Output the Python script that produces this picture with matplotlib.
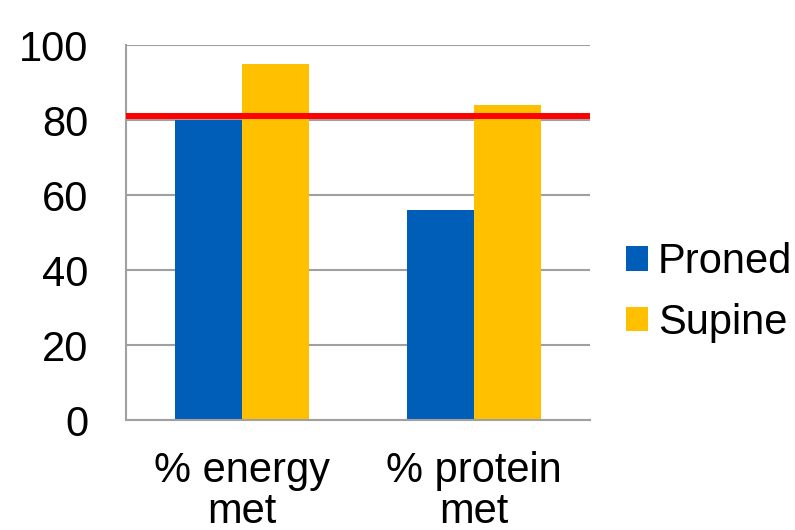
import numpy as np
from matplotlib import pyplot as plt

plt.rcParams['font.family'] = ['Liberation Sans', 'DejaVu Sans']

# Data
categories = ['% energy\nmet', '% protein\nmet']
proned = [80, 56]
supine = [95, 84]
target = 81
yticks = [0, 20, 40, 60, 80, 100]

blue = '#005EB8'
yellow = '#FFC000'
grid_col = '#A0A0A0'

fig = plt.figure(figsize=(7.95, 5.3), dpi=100)
ax = fig.add_axes([0.1585, 0.2075, 0.5836, 0.7075])

x = np.arange(len(categories))
w = 0.287
ax.bar(x - w/2, proned, w, color=blue, label='Proned', zorder=2)
ax.bar(x + w/2, supine, w, color=yellow, label='Supine', zorder=2)
ax.axhline(target, color='#FF0000', lw=4.3, zorder=3)

ax.set_xlim(-0.5, 1.5)
ax.set_ylim(0, 100)
ax.set_yticks(yticks)
ax.set_xticks(x)
ax.set_xticklabels(categories, fontsize=30, linespacing=1.05)
ax.tick_params(axis='y', labelsize=30, length=0, pad=27)
ax.tick_params(axis='x', length=0, pad=22)

ax.grid(axis='y', color=grid_col, lw=1.5, zorder=1)
for s in ['top', 'right']:
    ax.spines[s].set_visible(False)
for s in ['left', 'bottom']:
    ax.spines[s].set_color(grid_col)
    ax.spines[s].set_linewidth(1.5)

fig.legend(*ax.get_legend_handles_labels(), loc='center left',
           bbox_to_anchor=(0.787, 0.448), frameon=False,
           fontsize=30, handlelength=0.53, handleheight=0.53,
           handletextpad=0.24, labelspacing=0.5, borderaxespad=0,
           borderpad=0)

fig.savefig('out.png', dpi=100)
